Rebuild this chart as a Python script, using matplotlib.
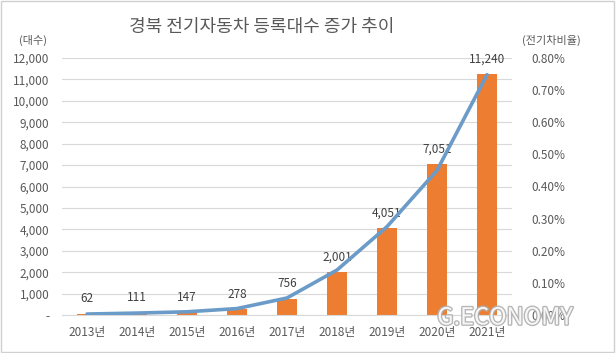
import matplotlib.pyplot as plt
import matplotlib.patheffects as pe
from matplotlib.ticker import FuncFormatter

plt.rcParams['font.family'] = ['Noto Sans CJK KR', 'DejaVu Sans']

years = ['2013년', '2014년', '2015년', '2016년', '2017년', '2018년', '2019년', '2020년', '2021년']
counts = [62, 111, 147, 278, 756, 2001, 4051, 7051, 11240]
ratio = [0.003, 0.006, 0.010, 0.020, 0.053, 0.140, 0.275, 0.450, 0.748]  # percent

gray = '#595959'
fig = plt.figure(figsize=(6.16, 3.53), dpi=100)
fig.patch.set_facecolor('white')
ax = fig.add_axes([62 / 616, 1 - 315 / 353, 450 / 616, 257 / 353])
ax2 = ax.twinx()

x = list(range(len(years)))
ax.bar(x, counts, width=0.4, color='#ED7D31', zorder=2)
for xi, c in zip(x, counts):
    ax.annotate(f'{c:,}', (xi, c), xytext=(0, 6), textcoords='offset points',
                ha='center', va='bottom', fontsize=8.5, color='#404040')

ax2.plot(x, ratio, color='#6B9BC8', lw=2.6, solid_capstyle='round', zorder=3)

ax.set_xlim(-0.5, len(years) - 0.5)
ax.set_ylim(0, 12000)
ax.set_yticks(range(0, 12001, 1000))
ax.yaxis.set_major_formatter(FuncFormatter(lambda v, p: '-' if v == 0 else f'{int(v):,}'))
ax2.set_ylim(0, 0.8)
ax2.set_yticks([i / 10 for i in range(9)])
ax2.yaxis.set_major_formatter(FuncFormatter(lambda v, p: f'{v:.2f}%'))
ax.set_xticks(x)
ax.set_xticklabels(years)

ax.grid(axis='y', color='#D9D9D9', lw=0.8, zorder=0)
ax.set_axisbelow(True)
for a in (ax, ax2):
    for s in a.spines.values():
        s.set_visible(False)
    a.tick_params(length=0, labelsize=8.5, colors=gray)
ax.tick_params(axis='y', pad=9)
ax2.tick_params(axis='y', pad=14)
ax.tick_params(axis='x', pad=8)
ax.spines['bottom'].set_visible(True)
ax.spines['bottom'].set_color('#D9D9D9')
ax2.set_zorder(ax.get_zorder() + 1)

fig.text(262 / 616, 1 - 27 / 353, '경북 전기자동차 등록대수 증가 추이', ha='center', va='center',
         fontsize=13, color=gray)
fig.text(33 / 616, 1 - 40 / 353, '(대수)', ha='center', va='center', fontsize=8, color=gray)
fig.text(551 / 616, 1 - 40 / 353, '(전기차비율)', ha='center', va='center', fontsize=8, color=gray)

fig.text(505 / 616, 1 - 318 / 353, 'G.ECONOMY', ha='center', va='center', fontsize=17,
         color='white', alpha=0.9,
         path_effects=[pe.withStroke(linewidth=2, foreground='#B0B0B0')])

fig.add_artist(plt.Rectangle((0.002, 0.003), 0.995, 0.994, transform=fig.transFigure,
                             fill=False, edgecolor='#D0D0D0', lw=1))

fig.savefig('out.png', dpi=100)
